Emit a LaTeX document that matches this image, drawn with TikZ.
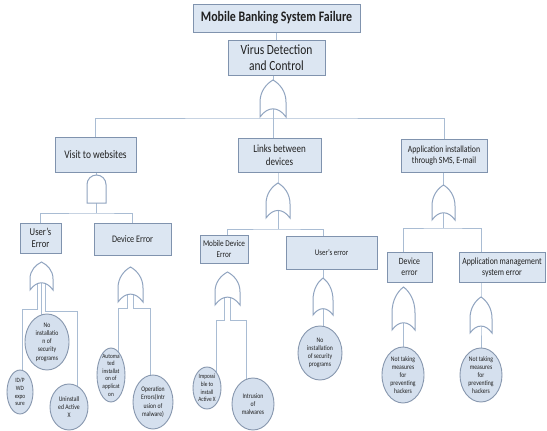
\documentclass[tikz,border=0pt]{standalone}
\usepackage{fontspec}
\setmainfont[FakeStretch=0.82]{Carlito}
\usetikzlibrary{shapes.geometric,calc}
\pgfdeclarelayer{bg}
\pgfsetlayers{bg,main}
\definecolor{boxfill}{HTML}{DCE6F2}
\definecolor{boxdraw}{HTML}{8093AE}
\definecolor{conncol}{HTML}{A9BCD3}
\definecolor{gatecol}{HTML}{90A4C0}
\definecolor{evfill}{HTML}{D5E0EE}
\definecolor{evdraw}{HTML}{8797AE}
\definecolor{txt}{HTML}{202020}
\tikzset{
  tbox/.style={draw=boxdraw, fill=boxfill, line width=0.9pt, inner sep=0pt, align=center, text=txt},
  ev/.style={ellipse, draw=evdraw, fill=evfill, line width=0.9pt, inner sep=-3pt, align=center, text=txt, font=\fontsize{7}{8.2}\selectfont},
  conn/.style={draw=conncol, line width=1pt},
  gate/.style={draw=gatecol, fill=white, line width=1pt},
  pics/orgate/.style 2 args={code={
    \path[gate] (-#1/2,#2) -- (-#1/2,0.6*#2) .. controls (-#1/2,0.3*#2) and (-0.25*#1,0.1*#2) .. (0,0)
      .. controls (0.25*#1,0.1*#2) and (#1/2,0.3*#2) .. (#1/2,0.6*#2) -- (#1/2,#2)
      .. controls (0.2*#1,#2-0.42*#1) and (-0.2*#1,#2-0.42*#1) .. cycle;
    \coordinate (-top) at (0,0);
    \coordinate (-bot) at (0,#2-0.315*#1);
  }},
  pics/andgate/.style 2 args={code={
    \path[gate] (-#1/2,#2) -- (-#1/2,#1/2) .. controls (-#1/2,0.224*#1) and (-0.276*#1,0) .. (0,0)
      .. controls (0.276*#1,0) and (#1/2,0.224*#1) .. (#1/2,#1/2) -- (#1/2,#2) -- cycle;
    \coordinate (-top) at (0,0);
    \coordinate (-bot) at (0,#2);
  }},
}
\begin{document}
\begin{tikzpicture}[x=1pt,y=-1pt]
\useasboundingbox (0,0) rectangle (547,431);

% boxes
\node[tbox, minimum width=167pt, minimum height=28pt, font=\bfseries\fontsize{14.5}{16}\selectfont] (top) at (276.5,18) {Mobile Banking System Failure};
\node[tbox, minimum width=97pt, minimum height=35pt, font=\fontsize{14}{16}\selectfont] (virus) at (276.5,57.5) {Virus Detection\\and Control};
\node[tbox, minimum width=81pt, minimum height=35pt, font=\fontsize{11.5}{13}\selectfont] (visit) at (95.5,154.5) {Visit to websites};
\node[tbox, minimum width=83pt, minimum height=34pt, font=\fontsize{11}{13}\selectfont] (links) at (279.5,155) {Links between\\devices};
\node[tbox, minimum width=86pt, minimum height=33pt, font=\fontsize{9.5}{11.5}\selectfont] (app) at (444,155.5) {Application installation\\through SMS, E-mail};
\node[tbox, minimum width=41pt, minimum height=30pt, font=\fontsize{10.5}{12.5}\selectfont] (userE) at (40.5,238) {User's\\Error};
\node[tbox, minimum width=77pt, minimum height=32pt, font=\fontsize{10}{12}\selectfont] (devE) at (132.5,239) {Device Error};
\node[tbox, minimum width=48pt, minimum height=28pt, font=\fontsize{8.8}{10.5}\selectfont] (mobE) at (224,249) {Mobile Device\\Error};
\node[tbox, minimum width=91pt, minimum height=33pt, font=\fontsize{8.5}{10}\selectfont] (usere) at (331.5,252.5) {User's error};
\node[tbox, minimum width=45pt, minimum height=30pt, font=\fontsize{9.5}{11}\selectfont] (deverr) at (409.5,267) {Device\\error};
\node[tbox, minimum width=86pt, minimum height=30pt, font=\fontsize{9.5}{11}\selectfont] (appm) at (502,267) {Application management\\system error};

% gates
\pic (g0) at (273,80) {orgate={26}{37}};
\pic (gV) at (96.5,175) {andgate={19}{28}};
\pic (gL) at (278,183) {orgate={24}{35}};
\pic (gA) at (443.5,185) {orgate={23}{35}};
\pic (gU) at (41.5,262) {orgate={23}{28}};
\pic (gD) at (130.5,267) {orgate={25}{35}};
\pic (gM) at (227.5,272) {orgate={25}{33}};
\pic (gE) at (323,278) {orgate={20}{37}};
\pic (gDE) at (403.5,287) {orgate={23}{43}};
\pic (gAM) at (481,297) {orgate={22}{36}};

% basic events
\node[ev, minimum width=26pt, minimum height=44pt, font=\fontsize{6.5}{7.8}\selectfont] (e1) at (20,392) {ID/P\\WD\\expo\\sure};
\node[ev, minimum width=44pt, minimum height=56pt] (e2) at (47,342) {No\\installatio\\n of\\security\\programs};
\node[ev, minimum width=38pt, minimum height=46pt] (e3) at (69,407) {Uninstall\\ed Active\\X};
\node[ev, minimum width=28pt, minimum height=54pt, inner ysep=-5pt, font=\fontsize{6.5}{7.6}\selectfont] (e4) at (111,375) {Automa\\ted\\installat\\on of\\applicat\\on};
\node[ev, minimum width=40pt, minimum height=54pt] (e5) at (153,402) {Operation\\Errors(Intr\\usion of\\malware)};
\node[ev, minimum width=28pt, minimum height=42pt, font=\fontsize{6.5}{7.8}\selectfont] (e6) at (207,388) {Impossi\\ble to\\install\\Active X};
\node[ev, minimum width=42pt, minimum height=52pt] (e7) at (253,404) {Intrusion\\of\\malwares};
\node[ev, minimum width=44pt, minimum height=54pt] (e8) at (320,353) {No\\installation\\of security\\programs};
\node[ev, minimum width=42pt, minimum height=56pt] (e9) at (403,375) {Not taking\\measures\\for\\preventing\\hackers};
\node[ev, minimum width=42pt, minimum height=54pt] (e10) at (481,375) {Not taking\\measures\\for\\preventing\\hackers};

% junctions
\coordinate (h0) at (273,118);
\coordinate (jV) at (96.5,213);
\coordinate (jL) at (278,229);
\coordinate (jA) at (443.5,228);
\coordinate (uL) at (22,309);
\coordinate (uR) at (77,311);
\coordinate (dL) at (118,308);
\coordinate (dR) at (150,308);
\coordinate (mL) at (216,320);
\coordinate (mR) at (246,320);

\begin{pgfonlayer}{bg}
\fill[white] (0,0) rectangle (547,431);
\draw[conn] (top) -- (virus);
\draw[conn] (g0-top |- virus.center) -- (g0-top);
\draw[conn] (g0-top) -- (links.center -| g0-top);
\draw[conn] (visit.center) |- (h0) -| (app.center);
% visit
\draw[conn] (visit.center -| gV-top) -- (gV-top) -- (jV);
\draw[conn] (userE.center) |- (jV) -| (devE.center);
% links
\draw[conn] (links.center -| gL-top) -- (gL-top) -- (jL);
\draw[conn] (mobE.center -| gM-top) |- (jL) -| (usere.center -| gE-top);
% app
\draw[conn] (app.center -| gA-top) -- (gA-top) -- (jA);
\draw[conn] (deverr.center -| gDE-top) |- (jA) -| (appm.center -| gAM-top);
% user's error
\draw[conn] ([xshift=-4pt]gU-bot) |- (uL) -- (uL |- e1.center);
\draw[conn] (gU-bot) -- (gU-bot |- e2.center);
\draw[conn] ([xshift=4pt]gU-bot) |- (uR) -- (uR |- e3.center);
% device error
\draw[conn] ([xshift=-3pt]gD-bot) |- (dL) -- (dL |- e4.center);
\draw[conn] ([xshift=3pt]gD-bot) |- (dR) -- (dR |- e5.center);
% mobile device error
\draw[conn] ([xshift=-3pt]gM-bot) |- (mL) -- (mL |- e6.center);
\draw[conn] ([xshift=3pt]gM-bot) |- (mR) -- (mR |- e7.center);
% user's error (links)
\draw[conn] (gE-top |- usere.center) -- (gE-top);
\draw[conn] (gE-bot) -- (gE-bot |- e8.center);
% device error / app mgmt
\draw[conn] (gDE-top) -- (gDE-bot |- e9.center);
\draw[conn] (gAM-top |- appm.center) -- (gAM-top) -- (gAM-bot |- e10.center);
\end{pgfonlayer}
\end{tikzpicture}
\end{document}
